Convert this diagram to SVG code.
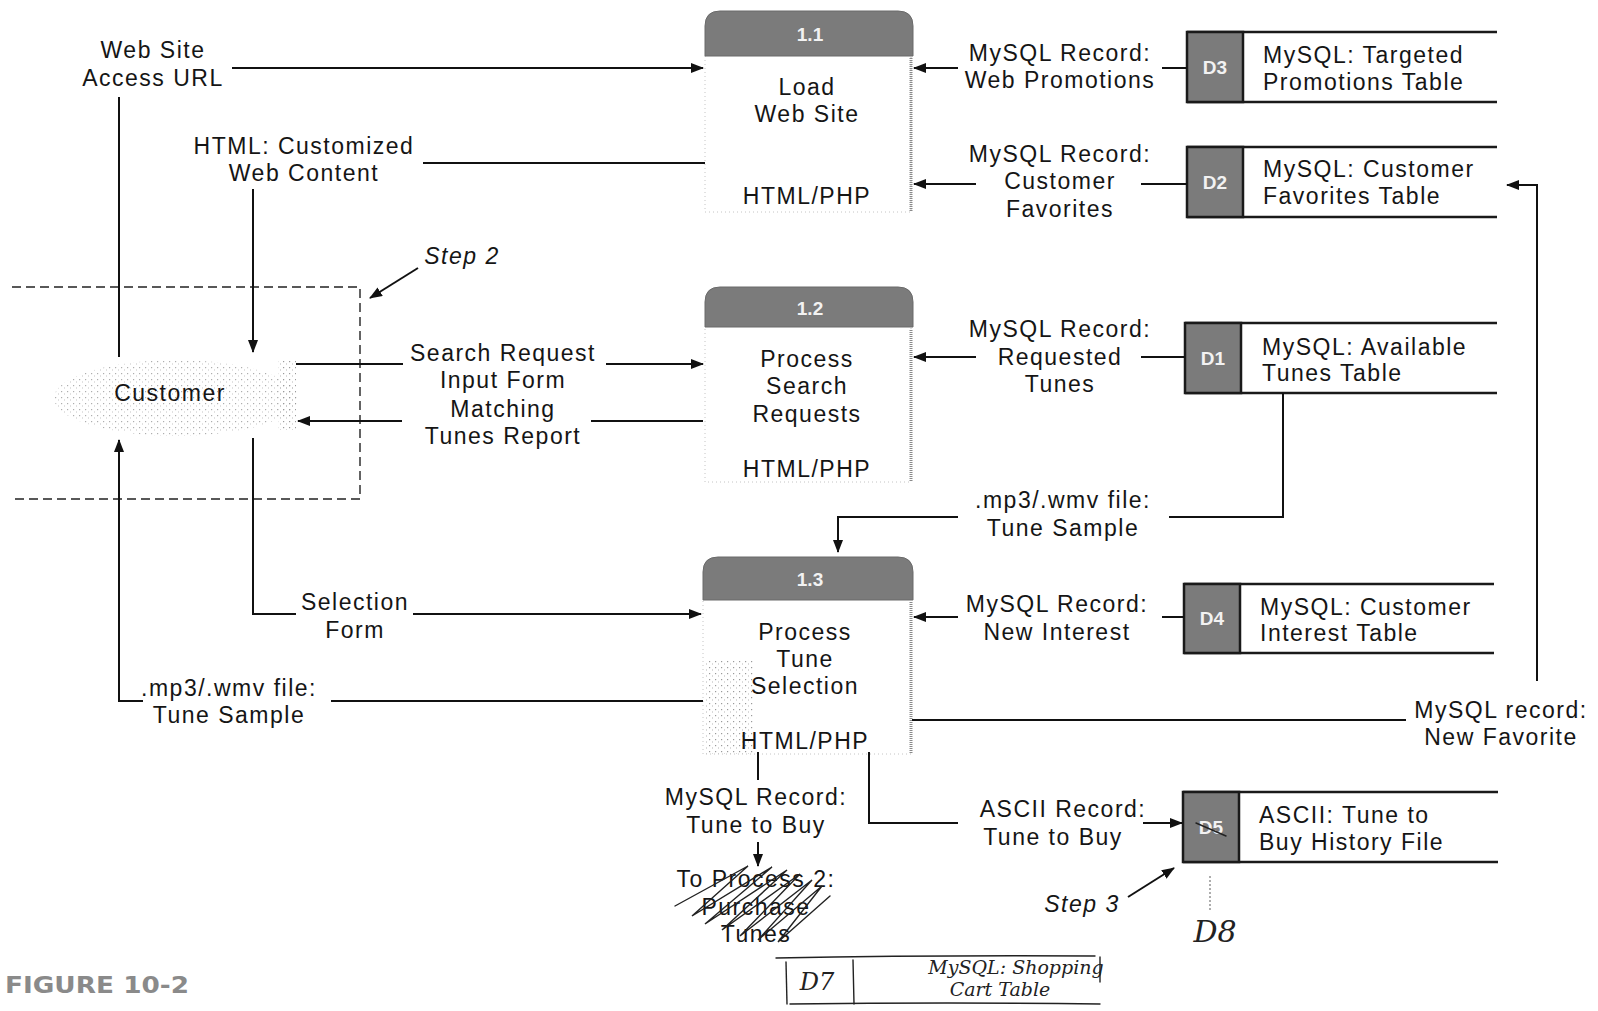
<svg xmlns="http://www.w3.org/2000/svg" width="1598" height="1011" viewBox="0 0 1598 1011">
<style>
.t{font-family:"Liberation Sans",Arial,sans-serif;font-size:23px;letter-spacing:1.5px;fill:#151515;text-anchor:middle}
.s{text-anchor:start}
.it{font-style:italic}
.num{font-family:"Liberation Sans",Arial,sans-serif;font-weight:bold;font-size:19px;fill:#f2f2f2;text-anchor:middle}
.ln{stroke:#111;stroke-width:2;fill:none}
.dash{stroke:#222;stroke-width:1.4;fill:none;stroke-dasharray:9 5}
.hdr{fill:#7b7b7b;stroke:#6a6a6a;stroke-width:1}
.body{fill:#fff;stroke:#c4c4c4;stroke-width:1;stroke-dasharray:1 3}
.edge{stroke:#8a8a8a;stroke-width:3;stroke-dasharray:1 1;fill:none}
.box{fill:#7b7b7b;stroke:#1a1a1a;stroke-width:2.5}
.rule{stroke:#1a1a1a;stroke-width:2.5}
.hand{stroke:#222;stroke-width:1.4;fill:none;stroke-linecap:round}
.hw{font-family:"DejaVu Serif","Liberation Serif",serif;font-style:italic;fill:#222}
.cap{font-family:"DejaVu Sans Condensed","DejaVu Sans",sans-serif;font-weight:bold;font-size:23px;fill:#8a8a8a}
</style>
<defs>
<marker id="ah" markerUnits="userSpaceOnUse" markerWidth="13" markerHeight="10" refX="12" refY="5" orient="auto">
<path d="M0,0 L13,5 L0,10 z" fill="#111"/>
</marker>
<pattern id="dots" width="6" height="6" patternUnits="userSpaceOnUse">
<rect x="1" y="1" width="1.2" height="1.2" fill="#9a9a9a"/>
<rect x="4" y="3.5" width="1" height="1" fill="#b5b5b5"/>
</pattern>
</defs>
<rect width="1598" height="1011" fill="#fff"/>

<g id="step2-boundary">
<path class="dash" d="M12 287 L360 287 L360 499 L10 499"/>
</g>

<g id="customer">
<ellipse cx="176" cy="398" rx="122" ry="38" fill="url(#dots)" opacity="0.8"/>
<rect x="278" y="360" width="18" height="70" fill="url(#dots)"/>
<text class="t" x="170" y="401">Customer</text>
</g>

<g id="p1-1">
<rect class="body" x="705" y="55" width="206" height="157"/>
<path class="edge" d="M911 58 L911 212"/>
<path class="hdr" d="M705 56 L705 26 Q705 11 720 11 L898 11 Q913 11 913 26 L913 56 z"/>
<text class="num" x="810" y="41">1.1</text>
<text class="t" x="807" y="95">Load</text>
<text class="t" x="807" y="122">Web Site</text>
<text class="t" x="807" y="204">HTML/PHP</text>
</g>

<g id="p1-2">
<rect class="body" x="705" y="326" width="206" height="156"/>
<path class="edge" d="M911 330 L911 482"/>
<path class="hdr" d="M705 327 L705 302 Q705 287 720 287 L898 287 Q913 287 913 302 L913 327 z"/>
<text class="num" x="810" y="315">1.2</text>
<text class="t" x="807" y="367">Process</text>
<text class="t" x="807" y="394">Search</text>
<text class="t" x="807" y="422">Requests</text>
<text class="t" x="807" y="477">HTML/PHP</text>
</g>

<g id="p1-3">
<rect class="body" x="703" y="598" width="208" height="156"/>
<rect x="706" y="660" width="48" height="94" fill="url(#dots)"/>
<path class="edge" d="M911 602 L911 754"/>
<path class="hdr" d="M703 600 L703 572 Q703 557 718 557 L898 557 Q913 557 913 572 L913 600 z"/>
<text class="num" x="810" y="586">1.3</text>
<text class="t" x="805" y="640">Process</text>
<text class="t" x="805" y="667">Tune</text>
<text class="t" x="805" y="694">Selection</text>
<text class="t" x="805" y="749">HTML/PHP</text>
</g>

<g id="d3">
<line class="rule" x1="1187" y1="32" x2="1497" y2="32"/>
<line class="rule" x1="1187" y1="102" x2="1497" y2="102"/>
<rect class="box" x="1187" y="32" width="56" height="70"/>
<text class="num" x="1215" y="74">D3</text>
<text class="t s" x="1263" y="63">MySQL: Targeted</text>
<text class="t s" x="1263" y="90">Promotions Table</text>
</g>

<g id="d2">
<line class="rule" x1="1187" y1="147" x2="1497" y2="147"/>
<line class="rule" x1="1187" y1="217" x2="1497" y2="217"/>
<rect class="box" x="1187" y="147" width="56" height="70"/>
<text class="num" x="1215" y="189">D2</text>
<text class="t s" x="1263" y="177">MySQL: Customer</text>
<text class="t s" x="1263" y="204">Favorites Table</text>
</g>

<g id="d1">
<line class="rule" x1="1185" y1="323" x2="1497" y2="323"/>
<line class="rule" x1="1185" y1="393" x2="1497" y2="393"/>
<rect class="box" x="1185" y="323" width="56" height="70"/>
<text class="num" x="1213" y="365">D1</text>
<text class="t s" x="1262" y="355">MySQL: Available</text>
<text class="t s" x="1262" y="381">Tunes Table</text>
</g>

<g id="d4">
<line class="rule" x1="1184" y1="584" x2="1494" y2="584"/>
<line class="rule" x1="1184" y1="653" x2="1494" y2="653"/>
<rect class="box" x="1184" y="584" width="56" height="69"/>
<text class="num" x="1212" y="625">D4</text>
<text class="t s" x="1260" y="615">MySQL: Customer</text>
<text class="t s" x="1260" y="641">Interest Table</text>
</g>

<g id="d5">
<line class="rule" x1="1183" y1="792" x2="1498" y2="792"/>
<line class="rule" x1="1183" y1="862" x2="1498" y2="862"/>
<rect class="box" x="1183" y="792" width="56" height="70"/>
<text class="num" x="1211" y="834">D5</text>
<path class="hand" d="M1196 823 L1226 836"/>
<text class="t s" x="1259" y="823">ASCII: Tune to</text>
<text class="t s" x="1259" y="850">Buy History File</text>
<line x1="1210" y1="876" x2="1210" y2="912" stroke="#777" stroke-width="1.2" stroke-dasharray="2 2"/>
<text class="hw" x="1215" y="942" font-size="30" text-anchor="middle" fill="#444">D8</text>
</g>

<g id="to-process-2">
<text class="t" x="756" y="887">To Process 2:</text>
<text class="t" x="756" y="915">Purchase</text>
<text class="t" x="756" y="942">Tunes</text>
<path class="hand" d="M675 906 L748 866 L692 916 L772 867 L705 924 L787 870 L722 930 L800 874 L740 936 L812 880 L758 940 L822 886 L778 942 L830 896"/>
</g>

<g id="d7">
<path class="hand" d="M776 958 Q930 955 1095 956"/>
<path class="hand" d="M790 1004 Q950 1002 1100 1004"/>
<path class="hand" d="M786 962 L787 1004"/>
<path class="hand" d="M853 960 L854 1004"/>
<path class="hand" d="M1100 957 L1100 982"/>
<text class="hw" x="817" y="990" font-size="24" text-anchor="middle">D7</text>
<text class="hw" x="1016" y="974" font-size="19" text-anchor="middle">MySQL: Shopping</text>
<text class="hw" x="1000" y="996" font-size="19" text-anchor="middle">Cart Table</text>
</g>

<g id="connectors">
<path class="ln" d="M119 357 L119 97"/>
<path class="ln" d="M232 68 L703 68" marker-end="url(#ah)"/>
<path class="ln" d="M705 163 L423 163"/>
<path class="ln" d="M253 189 L253 352" marker-end="url(#ah)"/>
<path class="ln" d="M296 364 L403 364"/>
<path class="ln" d="M606 364 L703 364" marker-end="url(#ah)"/>
<path class="ln" d="M703 421 L591 421"/>
<path class="ln" d="M402 421 L298 421" marker-end="url(#ah)"/>
<path class="ln" d="M253 438 L253 614 L296 614"/>
<path class="ln" d="M413 614 L701 614" marker-end="url(#ah)"/>
<path class="ln" d="M703 701 L331 701"/>
<path class="ln" d="M143 701 L119 701 L119 440" marker-end="url(#ah)"/>
<path class="ln" d="M1283 393 L1283 517 L1169 517"/>
<path class="ln" d="M958 517 L838 517 L838 552" marker-end="url(#ah)"/>
<path class="ln" d="M1187 68 L1162 68"/>
<path class="ln" d="M958 68 L914 68" marker-end="url(#ah)"/>
<path class="ln" d="M1187 184 L1141 184"/>
<path class="ln" d="M976 184 L914 184" marker-end="url(#ah)"/>
<path class="ln" d="M1185 357 L1141 357"/>
<path class="ln" d="M976 357 L914 357" marker-end="url(#ah)"/>
<path class="ln" d="M1184 617 L1162 617"/>
<path class="ln" d="M958 617 L914 617" marker-end="url(#ah)"/>
<path class="ln" d="M912 720 L1406 720"/>
<path class="ln" d="M1537 681 L1537 185 L1507 185" marker-end="url(#ah)"/>
<path class="ln" d="M758 752 L758 780"/>
<path class="ln" d="M758 842 L758 866" marker-end="url(#ah)"/>
<path class="ln" d="M869 752 L869 823 L958 823"/>
<path class="ln" d="M1143 823 L1182 823" marker-end="url(#ah)"/>
<path class="ln" d="M418 268 L370 298" marker-end="url(#ah)"/>
<path class="ln" d="M1128 897 L1174 868" marker-end="url(#ah)"/>
</g>

<g id="labels">
<text class="t" x="153" y="58">Web Site</text>
<text class="t" x="153" y="86">Access URL</text>
<text class="t" x="304" y="154">HTML: Customized</text>
<text class="t" x="304" y="181">Web Content</text>
<text class="t it" x="462" y="264">Step 2</text>
<text class="t" x="503" y="361">Search Request</text>
<text class="t" x="503" y="388">Input Form</text>
<text class="t" x="503" y="417">Matching</text>
<text class="t" x="503" y="444">Tunes Report</text>
<text class="t" x="355" y="610">Selection</text>
<text class="t" x="355" y="638">Form</text>
<text class="t" x="229" y="696">.mp3/.wmv file:</text>
<text class="t" x="229" y="723">Tune Sample</text>
<text class="t" x="1063" y="508">.mp3/.wmv file:</text>
<text class="t" x="1063" y="536">Tune Sample</text>
<text class="t" x="1060" y="61">MySQL Record:</text>
<text class="t" x="1060" y="88">Web Promotions</text>
<text class="t" x="1060" y="162">MySQL Record:</text>
<text class="t" x="1060" y="189">Customer</text>
<text class="t" x="1060" y="217">Favorites</text>
<text class="t" x="1060" y="337">MySQL Record:</text>
<text class="t" x="1060" y="365">Requested</text>
<text class="t" x="1060" y="392">Tunes</text>
<text class="t" x="1057" y="612">MySQL Record:</text>
<text class="t" x="1057" y="640">New Interest</text>
<text class="t" x="1501" y="718">MySQL record:</text>
<text class="t" x="1501" y="745">New Favorite</text>
<text class="t" x="756" y="805">MySQL Record:</text>
<text class="t" x="756" y="833">Tune to Buy</text>
<text class="t" x="1063" y="817">ASCII Record:</text>
<text class="t" x="1053" y="845">Tune to Buy</text>
<text class="t it" x="1082" y="912">Step 3</text>
</g>

<g id="caption">
<text class="cap" x="5" y="993" textLength="184" lengthAdjust="spacingAndGlyphs">FIGURE 10-2</text>
</g>
</svg>
